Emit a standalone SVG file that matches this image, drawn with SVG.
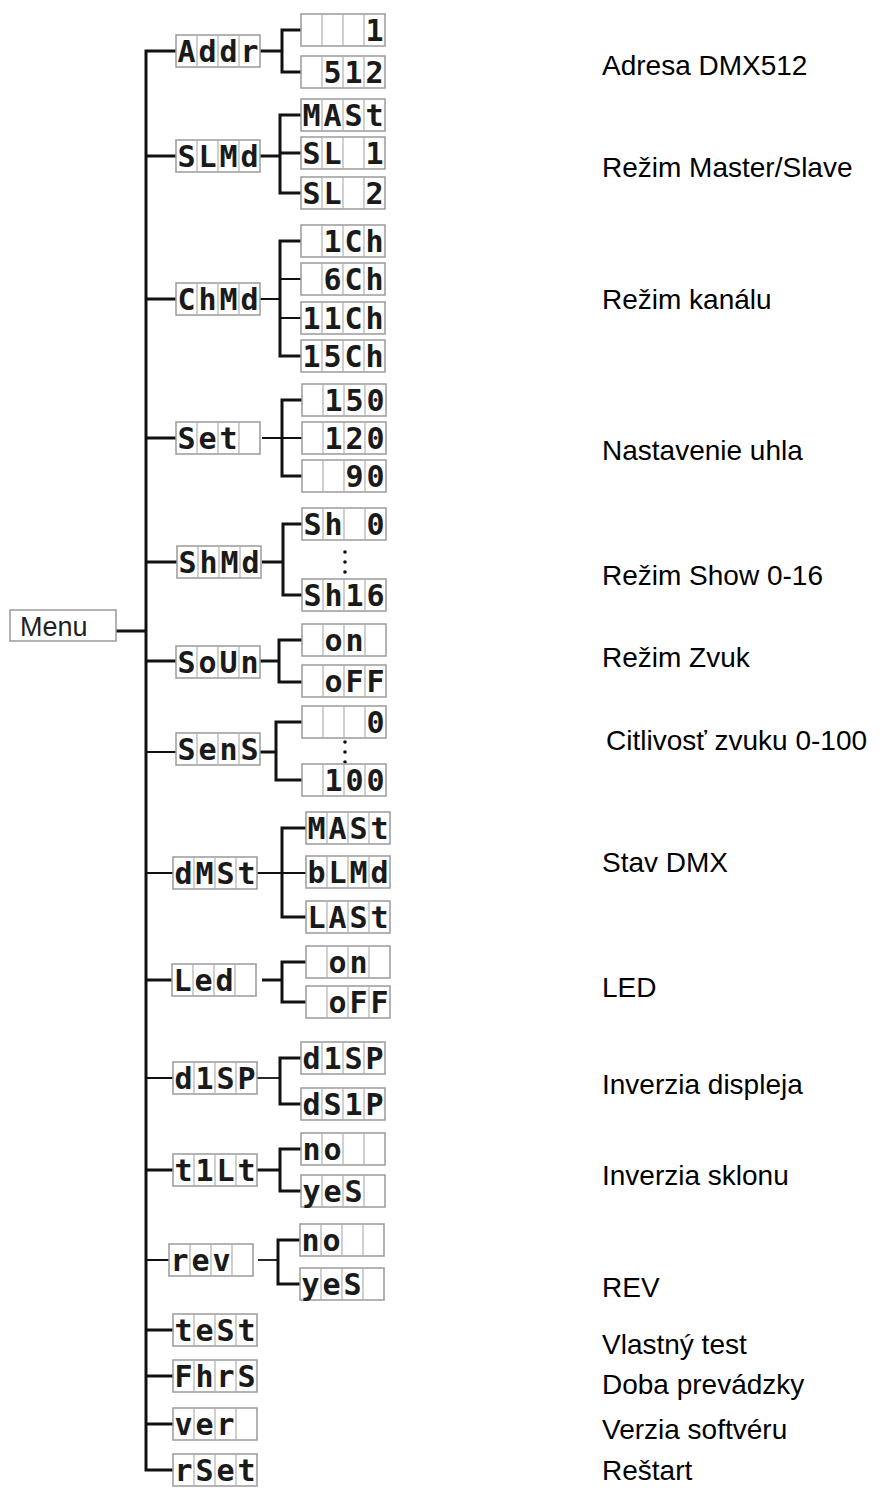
<svg xmlns="http://www.w3.org/2000/svg" xmlns:xlink="http://www.w3.org/1999/xlink" width="884" height="1488" viewBox="0 0 884 1488">
<style>
.fr{fill:#fff;stroke:#9a9a9a;stroke-width:1.5}
.dv{stroke:#b0b0b0;stroke-width:1.2}
.sg{font-family:"DejaVu Sans Mono","Liberation Mono",monospace;font-weight:bold;font-size:30px;fill:#1a1a1a;text-anchor:middle}
.lb{font-family:"Liberation Sans",Arial,sans-serif;font-size:28px;fill:#000}
.c{fill:none;stroke:#111;stroke-width:3;stroke-linejoin:miter}
.t{fill:none;stroke:#111;stroke-width:1.8}
.dot{fill:#111}
</style>
<defs>
<g id="frame">
<rect class="fr" x="0" y="0" width="84" height="32"/>
<line class="dv" x1="21" y1="0" x2="21" y2="32"/>
<line class="dv" x1="42" y1="0" x2="42" y2="32"/>
<line class="dv" x1="63" y1="0" x2="63" y2="32"/>
</g>
</defs>
<rect width="884" height="1488" fill="#fff"/>

<g id="connectors">
<path class="c" d="M176 51 H146 V1470 H173"/>
<path class="c" d="M146 156 H176 M146 299 H176 M146 438 H176 M146 562 H177 M116 631 H146 M146 661 H176 M146 980 H172 M146 1170 H173 M146 1330 H173 M146 1376 H173 M146 1424 H173"/>
<path class="t" d="M146 752 H176 M146 873 H173 M146 1078 H173 M146 1260 H169"/>
<path class="c" d="M260 51 H282 M301 30 H282 V72 H301"/>
<path class="c" d="M260 156 H280 M301 115 H280 V193 H301 M280 153 H301"/>
<path class="t" d="M260 299 H280 M280 279 H301 M280 318 H301"/>
<path class="c" d="M301 241 H280 V356 H301"/>
<path class="t" d="M262 438 H302"/>
<path class="c" d="M302 400 H282 V476 H302"/>
<path class="c" d="M262 562 H283 M302 524 H283 V595 H302"/>
<path class="c" d="M260 661 H279 M302 640 H279 V682 H302"/>
<path class="c" d="M258 752 H276 M302 722 H276 V780 H302"/>
<path class="t" d="M257 873 H306"/>
<path class="c" d="M306 828 H282 V917 H306"/>
<path class="c" d="M262 980 H282 M306 962 H282 V1002 H306"/>
<path class="t" d="M257 1078 H280"/>
<path class="c" d="M301 1058 H280 V1104 H301"/>
<path class="c" d="M257 1170 H280 M301 1149 H280 V1191 H301"/>
<path class="t" d="M258 1260 H278"/>
<path class="c" d="M300 1240 H278 V1284 H300"/>
<circle class="dot" cx="345" cy="552" r="1.8"/><circle class="dot" cx="345" cy="562" r="1.8"/><circle class="dot" cx="345" cy="572" r="1.8"/>
<circle class="dot" cx="345" cy="742" r="1.8"/><circle class="dot" cx="345" cy="752" r="1.8"/><circle class="dot" cx="345" cy="762" r="1.8"/>
</g>

<g id="menu">
<rect x="10" y="610" width="106" height="31" fill="#fff" stroke="#9a9a9a" stroke-width="1.5"/>
<text x="20" y="636" style="font-family:'Liberation Sans',Arial,sans-serif;font-size:27px;fill:#222">Menu</text>
</g>

<g id="addr" transform="translate(176,35)"><use xlink:href="#frame"/><text class="sg" y="27"><tspan x="10.5">A</tspan><tspan x="31.5">d</tspan><tspan x="52.5">d</tspan><tspan x="73.5">r</tspan></text></g>
<g id="addr-1" transform="translate(301,14)"><use xlink:href="#frame"/><text class="sg" y="27"><tspan x="73.5">1</tspan></text></g>
<g id="addr-512" transform="translate(301,56)"><use xlink:href="#frame"/><text class="sg" y="27"><tspan x="31.5">5</tspan><tspan x="52.5">1</tspan><tspan x="73.5">2</tspan></text></g>

<g id="slmd" transform="translate(176,140)"><use xlink:href="#frame"/><text class="sg" y="27"><tspan x="10.5">S</tspan><tspan x="31.5">L</tspan><tspan x="52.5">M</tspan><tspan x="73.5">d</tspan></text></g>
<g id="slmd-mast" transform="translate(301,99)"><use xlink:href="#frame"/><text class="sg" y="27"><tspan x="10.5">M</tspan><tspan x="31.5">A</tspan><tspan x="52.5">S</tspan><tspan x="73.5">t</tspan></text></g>
<g id="slmd-sl1" transform="translate(301,137)"><use xlink:href="#frame"/><text class="sg" y="27"><tspan x="10.5">S</tspan><tspan x="31.5">L</tspan><tspan x="73.5">1</tspan></text></g>
<g id="slmd-sl2" transform="translate(301,177)"><use xlink:href="#frame"/><text class="sg" y="27"><tspan x="10.5">S</tspan><tspan x="31.5">L</tspan><tspan x="73.5">2</tspan></text></g>

<g id="chmd" transform="translate(176,283)"><use xlink:href="#frame"/><text class="sg" y="27"><tspan x="10.5">C</tspan><tspan x="31.5">h</tspan><tspan x="52.5">M</tspan><tspan x="73.5">d</tspan></text></g>
<g id="chmd-1" transform="translate(301,225)"><use xlink:href="#frame"/><text class="sg" y="27"><tspan x="31.5">1</tspan><tspan x="52.5">C</tspan><tspan x="73.5">h</tspan></text></g>
<g id="chmd-6" transform="translate(301,263)"><use xlink:href="#frame"/><text class="sg" y="27"><tspan x="31.5">6</tspan><tspan x="52.5">C</tspan><tspan x="73.5">h</tspan></text></g>
<g id="chmd-11" transform="translate(301,302)"><use xlink:href="#frame"/><text class="sg" y="27"><tspan x="10.5">1</tspan><tspan x="31.5">1</tspan><tspan x="52.5">C</tspan><tspan x="73.5">h</tspan></text></g>
<g id="chmd-15" transform="translate(301,340)"><use xlink:href="#frame"/><text class="sg" y="27"><tspan x="10.5">1</tspan><tspan x="31.5">5</tspan><tspan x="52.5">C</tspan><tspan x="73.5">h</tspan></text></g>

<g id="set" transform="translate(176,422)"><use xlink:href="#frame"/><text class="sg" y="27"><tspan x="10.5">S</tspan><tspan x="31.5">e</tspan><tspan x="52.5">t</tspan></text></g>
<g id="set-150" transform="translate(302,384)"><use xlink:href="#frame"/><text class="sg" y="27"><tspan x="31.5">1</tspan><tspan x="52.5">5</tspan><tspan x="73.5">0</tspan></text></g>
<g id="set-120" transform="translate(302,422)"><use xlink:href="#frame"/><text class="sg" y="27"><tspan x="31.5">1</tspan><tspan x="52.5">2</tspan><tspan x="73.5">0</tspan></text></g>
<g id="set-90" transform="translate(302,460)"><use xlink:href="#frame"/><text class="sg" y="27"><tspan x="52.5">9</tspan><tspan x="73.5">0</tspan></text></g>

<g id="shmd" transform="translate(177,546)"><use xlink:href="#frame"/><text class="sg" y="27"><tspan x="10.5">S</tspan><tspan x="31.5">h</tspan><tspan x="52.5">M</tspan><tspan x="73.5">d</tspan></text></g>
<g id="shmd-0" transform="translate(302,508)"><use xlink:href="#frame"/><text class="sg" y="27"><tspan x="10.5">S</tspan><tspan x="31.5">h</tspan><tspan x="73.5">0</tspan></text></g>
<g id="shmd-16" transform="translate(302,579)"><use xlink:href="#frame"/><text class="sg" y="27"><tspan x="10.5">S</tspan><tspan x="31.5">h</tspan><tspan x="52.5">1</tspan><tspan x="73.5">6</tspan></text></g>

<g id="soun" transform="translate(176,646)"><use xlink:href="#frame"/><text class="sg" y="27"><tspan x="10.5">S</tspan><tspan x="31.5">o</tspan><tspan x="52.5">U</tspan><tspan x="73.5">n</tspan></text></g>
<g id="soun-on" transform="translate(302,624)"><use xlink:href="#frame"/><text class="sg" y="27"><tspan x="31.5">o</tspan><tspan x="52.5">n</tspan></text></g>
<g id="soun-off" transform="translate(302,665)"><use xlink:href="#frame"/><text class="sg" y="27"><tspan x="31.5">o</tspan><tspan x="52.5">F</tspan><tspan x="73.5">F</tspan></text></g>

<g id="sens" transform="translate(176,733)"><use xlink:href="#frame"/><text class="sg" y="27"><tspan x="10.5">S</tspan><tspan x="31.5">e</tspan><tspan x="52.5">n</tspan><tspan x="73.5">S</tspan></text></g>
<g id="sens-0" transform="translate(302,706)"><use xlink:href="#frame"/><text class="sg" y="27"><tspan x="73.5">0</tspan></text></g>
<g id="sens-100" transform="translate(302,764)"><use xlink:href="#frame"/><text class="sg" y="27"><tspan x="31.5">1</tspan><tspan x="52.5">0</tspan><tspan x="73.5">0</tspan></text></g>

<g id="dmst" transform="translate(173,857)"><use xlink:href="#frame"/><text class="sg" y="27"><tspan x="10.5">d</tspan><tspan x="31.5">M</tspan><tspan x="52.5">S</tspan><tspan x="73.5">t</tspan></text></g>
<g id="dmst-mast" transform="translate(306,812)"><use xlink:href="#frame"/><text class="sg" y="27"><tspan x="10.5">M</tspan><tspan x="31.5">A</tspan><tspan x="52.5">S</tspan><tspan x="73.5">t</tspan></text></g>
<g id="dmst-blmd" transform="translate(306,856)"><use xlink:href="#frame"/><text class="sg" y="27"><tspan x="10.5">b</tspan><tspan x="31.5">L</tspan><tspan x="52.5">M</tspan><tspan x="73.5">d</tspan></text></g>
<g id="dmst-last" transform="translate(306,901)"><use xlink:href="#frame"/><text class="sg" y="27"><tspan x="10.5">L</tspan><tspan x="31.5">A</tspan><tspan x="52.5">S</tspan><tspan x="73.5">t</tspan></text></g>

<g id="led" transform="translate(172,964)"><use xlink:href="#frame"/><text class="sg" y="27"><tspan x="10.5">L</tspan><tspan x="31.5">e</tspan><tspan x="52.5">d</tspan></text></g>
<g id="led-on" transform="translate(306,946)"><use xlink:href="#frame"/><text class="sg" y="27"><tspan x="31.5">o</tspan><tspan x="52.5">n</tspan></text></g>
<g id="led-off" transform="translate(306,986)"><use xlink:href="#frame"/><text class="sg" y="27"><tspan x="31.5">o</tspan><tspan x="52.5">F</tspan><tspan x="73.5">F</tspan></text></g>

<g id="disp" transform="translate(173,1062)"><use xlink:href="#frame"/><text class="sg" y="27"><tspan x="10.5">d</tspan><tspan x="31.5">1</tspan><tspan x="52.5">S</tspan><tspan x="73.5">P</tspan></text></g>
<g id="disp-disp" transform="translate(301,1042)"><use xlink:href="#frame"/><text class="sg" y="27"><tspan x="10.5">d</tspan><tspan x="31.5">1</tspan><tspan x="52.5">S</tspan><tspan x="73.5">P</tspan></text></g>
<g id="disp-dsip" transform="translate(301,1088)"><use xlink:href="#frame"/><text class="sg" y="27"><tspan x="10.5">d</tspan><tspan x="31.5">S</tspan><tspan x="52.5">1</tspan><tspan x="73.5">P</tspan></text></g>

<g id="tilt" transform="translate(173,1154)"><use xlink:href="#frame"/><text class="sg" y="27"><tspan x="10.5">t</tspan><tspan x="31.5">1</tspan><tspan x="52.5">L</tspan><tspan x="73.5">t</tspan></text></g>
<g id="tilt-no" transform="translate(301,1133)"><use xlink:href="#frame"/><text class="sg" y="27"><tspan x="10.5">n</tspan><tspan x="31.5">o</tspan></text></g>
<g id="tilt-yes" transform="translate(301,1175)"><use xlink:href="#frame"/><text class="sg" y="27"><tspan x="10.5">y</tspan><tspan x="31.5">e</tspan><tspan x="52.5">S</tspan></text></g>

<g id="rev" transform="translate(169,1244)"><use xlink:href="#frame"/><text class="sg" y="27"><tspan x="10.5">r</tspan><tspan x="31.5">e</tspan><tspan x="52.5">v</tspan></text></g>
<g id="rev-no" transform="translate(300,1224)"><use xlink:href="#frame"/><text class="sg" y="27"><tspan x="10.5">n</tspan><tspan x="31.5">o</tspan></text></g>
<g id="rev-yes" transform="translate(300,1268)"><use xlink:href="#frame"/><text class="sg" y="27"><tspan x="10.5">y</tspan><tspan x="31.5">e</tspan><tspan x="52.5">S</tspan></text></g>

<g id="test" transform="translate(173,1314)"><use xlink:href="#frame"/><text class="sg" y="27"><tspan x="10.5">t</tspan><tspan x="31.5">e</tspan><tspan x="52.5">S</tspan><tspan x="73.5">t</tspan></text></g>
<g id="fhrs" transform="translate(173,1360)"><use xlink:href="#frame"/><text class="sg" y="27"><tspan x="10.5">F</tspan><tspan x="31.5">h</tspan><tspan x="52.5">r</tspan><tspan x="73.5">S</tspan></text></g>
<g id="ver" transform="translate(173,1408)"><use xlink:href="#frame"/><text class="sg" y="27"><tspan x="10.5">v</tspan><tspan x="31.5">e</tspan><tspan x="52.5">r</tspan></text></g>
<g id="rset" transform="translate(173,1454)"><use xlink:href="#frame"/><text class="sg" y="27"><tspan x="10.5">r</tspan><tspan x="31.5">S</tspan><tspan x="52.5">e</tspan><tspan x="73.5">t</tspan></text></g>

<g id="labels">
<text class="lb" x="602" y="75">Adresa DMX512</text>
<text class="lb" x="602" y="177">Režim Master/Slave</text>
<text class="lb" x="602" y="309">Režim kanálu</text>
<text class="lb" x="602" y="460">Nastavenie uhla</text>
<text class="lb" x="602" y="585">Režim Show 0-16</text>
<text class="lb" x="602" y="667">Režim Zvuk</text>
<text class="lb" x="606" y="750">Citlivosť zvuku 0-100</text>
<text class="lb" x="602" y="872">Stav DMX</text>
<text class="lb" x="602" y="997">LED</text>
<text class="lb" x="602" y="1094">Inverzia displeja</text>
<text class="lb" x="602" y="1185">Inverzia sklonu</text>
<text class="lb" x="602" y="1297">REV</text>
<text class="lb" x="602" y="1354">Vlastný test</text>
<text class="lb" x="602" y="1394">Doba prevádzky</text>
<text class="lb" x="602" y="1439">Verzia softvéru</text>
<text class="lb" x="602" y="1480">Reštart</text>
</g>
</svg>
